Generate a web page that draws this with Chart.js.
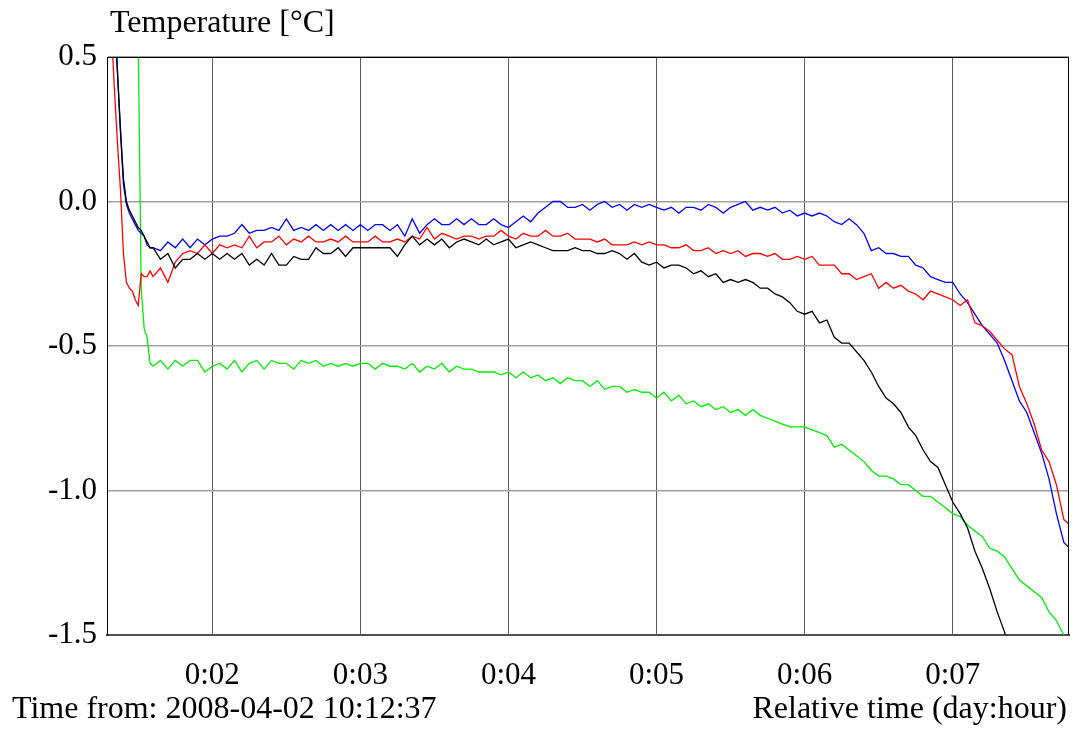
<!DOCTYPE html>
<html>
<head>
<meta charset="utf-8">
<script src="https://cdn.jsdelivr.net/npm/chart.js@4.4.1/dist/chart.umd.min.js"></script>
<style>
html,body{margin:0;padding:0;background:#fff;}
#c{display:block;}
</style>
</head>
<body>
<canvas id="c" width="1074" height="729"></canvas>
<script>
// ---- data (hours from start, temperatures in °C) ----
const hours = [1.29,1.32,1.34,1.36,1.38,1.40,1.42,1.44,1.46,1.48,1.50,1.52,1.54,1.56,1.58,
1.60,1.65,1.70,1.75,1.80,1.85,1.90,1.95,2.00,2.05,2.10,2.15,2.20,2.25,2.30,2.35,2.40,2.45,2.50,2.55,2.60,2.65,2.70,2.75,2.80,2.85,2.90,2.95,
3.00,3.05,3.10,3.15,3.20,3.25,3.30,3.35,3.40,3.45,3.50,3.55,3.60,3.65,3.70,3.75,3.80,3.85,3.90,3.95,
4.00,4.05,4.10,4.15,4.20,4.25,4.30,4.35,4.40,4.45,4.50,4.55,4.60,4.65,4.70,4.75,4.80,4.85,4.90,4.95,
5.00,5.05,5.10,5.15,5.20,5.25,5.30,5.35,5.40,5.45,5.50,5.55,5.60,5.65,5.70,5.75,5.80,5.85,5.90,5.95,
6.00,6.05,6.10,6.15,6.20,6.25,6.30,6.35,6.40,6.45,6.50,6.55,6.60,6.65,6.70,6.75,6.80,6.85,6.90,6.95,
7.00,7.05,7.10,7.15,7.20,7.25,7.30,7.35,7.40,7.45,7.50,7.55,7.60,7.65,7.70,7.75,7.79];

const blueSeries = [1.4,0.9,0.65,0.44,0.24,0.06,-0.01,-0.04,-0.06,-0.08,-0.10,-0.11,-0.12,-0.15,-0.16,
-0.16,-0.17,-0.14,-0.16,-0.13,-0.16,-0.13,-0.15,-0.13,-0.12,-0.12,-0.11,-0.08,-0.11,-0.10,-0.10,-0.09,-0.10,-0.06,-0.10,-0.09,-0.10,-0.08,-0.10,-0.08,-0.10,-0.08,-0.10,
-0.08,-0.10,-0.08,-0.08,-0.10,-0.08,-0.12,-0.06,-0.11,-0.08,-0.06,-0.08,-0.08,-0.06,-0.08,-0.06,-0.08,-0.08,-0.06,-0.08,
-0.09,-0.07,-0.05,-0.07,-0.04,-0.02,0.00,0.00,-0.02,-0.02,-0.01,-0.03,-0.01,0.00,-0.02,-0.01,-0.03,-0.01,-0.02,-0.01,
-0.02,-0.03,-0.02,-0.04,-0.02,-0.02,-0.03,-0.01,-0.02,-0.04,-0.02,-0.01,0.00,-0.03,-0.02,-0.03,-0.02,-0.04,-0.03,-0.05,
-0.04,-0.05,-0.04,-0.05,-0.07,-0.08,-0.06,-0.08,-0.11,-0.17,-0.16,-0.18,-0.18,-0.19,-0.19,-0.22,-0.23,-0.26,-0.27,-0.28,
-0.28,-0.32,-0.35,-0.39,-0.43,-0.46,-0.49,-0.55,-0.62,-0.69,-0.73,-0.80,-0.87,-0.96,-1.08,-1.18,-1.20];

const redSeries = [0.9,0.58,0.38,0.20,0.04,-0.18,-0.28,-0.30,-0.31,-0.34,-0.36,-0.25,-0.26,-0.26,-0.24,
-0.26,-0.23,-0.28,-0.21,-0.18,-0.17,-0.18,-0.15,-0.18,-0.15,-0.16,-0.15,-0.16,-0.12,-0.16,-0.14,-0.14,-0.12,-0.15,-0.13,-0.14,-0.12,-0.14,-0.14,-0.13,-0.14,-0.12,-0.14,
-0.14,-0.14,-0.12,-0.14,-0.14,-0.13,-0.14,-0.12,-0.13,-0.09,-0.13,-0.11,-0.12,-0.13,-0.12,-0.12,-0.13,-0.12,-0.12,-0.10,
-0.12,-0.13,-0.11,-0.12,-0.12,-0.10,-0.12,-0.12,-0.11,-0.13,-0.13,-0.13,-0.14,-0.13,-0.15,-0.15,-0.15,-0.14,-0.15,-0.14,
-0.15,-0.15,-0.16,-0.16,-0.15,-0.17,-0.17,-0.16,-0.18,-0.17,-0.18,-0.17,-0.19,-0.18,-0.18,-0.19,-0.18,-0.20,-0.20,-0.19,
-0.20,-0.19,-0.22,-0.22,-0.22,-0.25,-0.25,-0.27,-0.26,-0.25,-0.30,-0.28,-0.30,-0.29,-0.31,-0.32,-0.34,-0.31,-0.32,-0.33,
-0.34,-0.36,-0.34,-0.42,-0.43,-0.45,-0.48,-0.51,-0.53,-0.64,-0.70,-0.77,-0.86,-0.90,-0.98,-1.10,-1.12];

const blackSeries = [1.4,0.92,0.66,0.45,0.25,0.08,0.00,-0.03,-0.05,-0.07,-0.09,-0.10,-0.12,-0.14,-0.16,
-0.16,-0.20,-0.18,-0.23,-0.20,-0.20,-0.18,-0.20,-0.18,-0.20,-0.18,-0.20,-0.18,-0.22,-0.20,-0.22,-0.18,-0.22,-0.22,-0.19,-0.20,-0.20,-0.16,-0.18,-0.18,-0.16,-0.19,-0.16,
-0.16,-0.16,-0.16,-0.16,-0.16,-0.19,-0.15,-0.12,-0.15,-0.13,-0.15,-0.13,-0.16,-0.14,-0.13,-0.14,-0.15,-0.13,-0.15,-0.14,
-0.13,-0.16,-0.15,-0.14,-0.15,-0.16,-0.17,-0.17,-0.17,-0.16,-0.17,-0.17,-0.18,-0.18,-0.17,-0.18,-0.20,-0.18,-0.21,-0.22,
-0.21,-0.23,-0.22,-0.22,-0.23,-0.25,-0.24,-0.26,-0.25,-0.28,-0.27,-0.28,-0.27,-0.28,-0.30,-0.30,-0.32,-0.33,-0.35,-0.38,
-0.39,-0.38,-0.42,-0.41,-0.47,-0.49,-0.49,-0.52,-0.55,-0.59,-0.64,-0.68,-0.70,-0.73,-0.78,-0.81,-0.86,-0.90,-0.92,-0.98,
-1.04,-1.08,-1.13,-1.21,-1.27,-1.34,-1.42,-1.49,-1.58,null,null,null,null,null,null,null,null];

const greenSeries = [null,null,null,null,null,null,null,null,null,1.5,0.55,-0.30,-0.44,-0.47,-0.56,
-0.57,-0.55,-0.58,-0.55,-0.57,-0.55,-0.55,-0.59,-0.57,-0.56,-0.58,-0.55,-0.59,-0.56,-0.55,-0.58,-0.55,-0.56,-0.56,-0.58,-0.55,-0.56,-0.55,-0.57,-0.56,-0.57,-0.56,-0.57,
-0.56,-0.56,-0.58,-0.56,-0.57,-0.57,-0.58,-0.56,-0.59,-0.57,-0.58,-0.56,-0.59,-0.57,-0.58,-0.58,-0.59,-0.59,-0.59,-0.60,
-0.59,-0.61,-0.59,-0.61,-0.60,-0.62,-0.61,-0.63,-0.61,-0.62,-0.62,-0.64,-0.62,-0.65,-0.64,-0.64,-0.66,-0.65,-0.66,-0.66,
-0.68,-0.66,-0.69,-0.67,-0.70,-0.69,-0.71,-0.70,-0.72,-0.71,-0.73,-0.72,-0.74,-0.72,-0.74,-0.75,-0.76,-0.77,-0.78,-0.78,
-0.78,-0.79,-0.80,-0.81,-0.85,-0.84,-0.86,-0.88,-0.90,-0.93,-0.95,-0.95,-0.96,-0.98,-0.98,-1.00,-1.02,-1.02,-1.04,-1.06,
-1.08,-1.09,-1.12,-1.14,-1.16,-1.20,-1.21,-1.23,-1.27,-1.31,-1.33,-1.35,-1.37,-1.42,-1.45,-1.50,-1.53];

const xTickHours = [2,3,4,5,6,7];
const xTickLabels = ['0:02','0:03','0:04','0:05','0:06','0:07'];
const yTickValues = [-1.5,-1.0,-0.5,0.0,0.5];

const yTitle = 'Temperature [°C]';
const startText = 'Time from: 2008-04-02 10:12:37';
const xTitle = 'Relative time (day:hour)';

// ---- chart ----
const FONT = 'Liberation Serif, Times New Roman, serif';
const toPts = arr => hours.map((h, i) => ({x: h, y: arr[i]}));

const frameAndText = {
  id: 'frameAndText',
  afterDraw(chart) {
    const {ctx, chartArea: a} = chart;
    ctx.save();
    ctx.strokeStyle = '#000';
    ctx.lineWidth = 1;
    ctx.beginPath();
    ctx.moveTo(a.left + 0.5, a.bottom);
    ctx.lineTo(a.left + 0.5, a.top + 0.5);
    ctx.lineTo(a.right - 0.5, a.top + 0.5);
    ctx.lineTo(a.right - 0.5, a.bottom);
    ctx.stroke();
    ctx.fillStyle = '#000';
    ctx.font = '32px ' + FONT;
    ctx.textBaseline = 'alphabetic';
    ctx.textAlign = 'left';
    ctx.fillText(yTitle, 110, 32);
    ctx.fillText(startText, 12, 718);
    ctx.textAlign = 'right';
    ctx.fillText(xTitle, 1067, 718);
    ctx.restore();
  }
};

new Chart(document.getElementById('c'), {
  type: 'line',
  data: {
    datasets: [
      {data: toPts(blackSeries), borderColor: '#000000'},
      {data: toPts(redSeries), borderColor: '#ff0000'},
      {data: toPts(blueSeries), borderColor: '#0000ff'},
      {data: toPts(greenSeries), borderColor: '#00ee00'}
    ]
  },
  options: {
    responsive: false,
    devicePixelRatio: 1,
    animation: false,
    parsing: true,
    datasets: {line: {borderWidth: 1.3, pointRadius: 0, tension: 0, fill: false, spanGaps: false}},
    layout: {padding: {left: 0, top: 57, right: 5, bottom: 0}},
    plugins: {legend: {display: false}, tooltip: {enabled: false}, title: {display: false}},
    scales: {
      x: {
        type: 'linear',
        min: 1.289,
        max: 7.785,
        afterBuildTicks: s => { s.ticks = xTickHours.map(v => ({value: v})); },
        afterFit: s => { s.height = 94; },
        ticks: {
          color: '#000',
          font: {family: FONT, size: 31},
          padding: 22,
          maxRotation: 0,
          autoSkip: false,
          callback: v => xTickLabels[xTickHours.indexOf(v)]
        },
        grid: {color: '#5a5a5a', lineWidth: 1, drawTicks: false},
        border: {color: '#505050', width: 2}
      },
      y: {
        type: 'linear',
        min: -1.5,
        max: 0.5,
        afterBuildTicks: s => { s.ticks = yTickValues.map(v => ({value: v})); },
        afterFit: s => { s.width = 107; },
        ticks: {
          color: '#000',
          font: {family: FONT, size: 31},
          padding: 10,
          callback: v => v.toFixed(1)
        },
        grid: {color: '#a0a0a0', lineWidth: 1.5, drawTicks: false},
        border: {color: '#000', width: 1}
      }
    }
  },
  plugins: [frameAndText]
});
</script>
</body>
</html>
